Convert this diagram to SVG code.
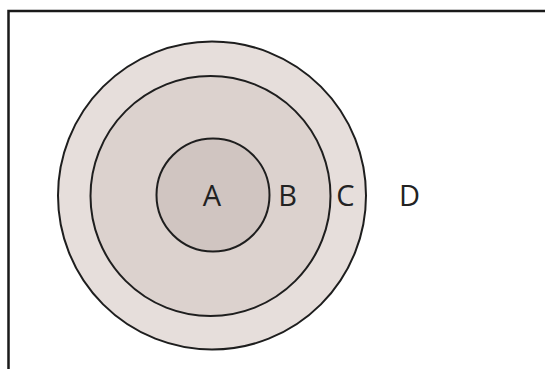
<svg xmlns="http://www.w3.org/2000/svg" width="545" height="369" viewBox="0 0 545 369">
<style>
.ring{stroke:#1e1e1e;stroke-width:2}
.lbl{font-family:"Open Sans","DejaVu Sans",sans-serif;font-size:29px;fill:#222;text-anchor:middle}
</style>
<rect x="0" y="0" width="545" height="369" fill="#ffffff"/>
<rect x="8.5" y="11" width="600" height="400" fill="none" stroke="#1a1a1a" stroke-width="2.5"/>
<g id="C"><circle class="ring" cx="212" cy="195.5" r="154" fill="#e6dedb"/></g>
<g id="B"><circle class="ring" cx="210.5" cy="196" r="120" fill="#dcd2ce"/></g>
<g id="A"><circle class="ring" cx="213" cy="195" r="56.5" fill="#d0c5c1"/></g>
<g id="labels">
<text class="lbl" x="212" y="205.5">A</text>
<text class="lbl" x="287.5" y="205.5">B</text>
<text class="lbl" x="345.5" y="205.5">C</text>
<text class="lbl" x="409.5" y="205.5">D</text>
</g>
<g id="connectors"/>
</svg>
